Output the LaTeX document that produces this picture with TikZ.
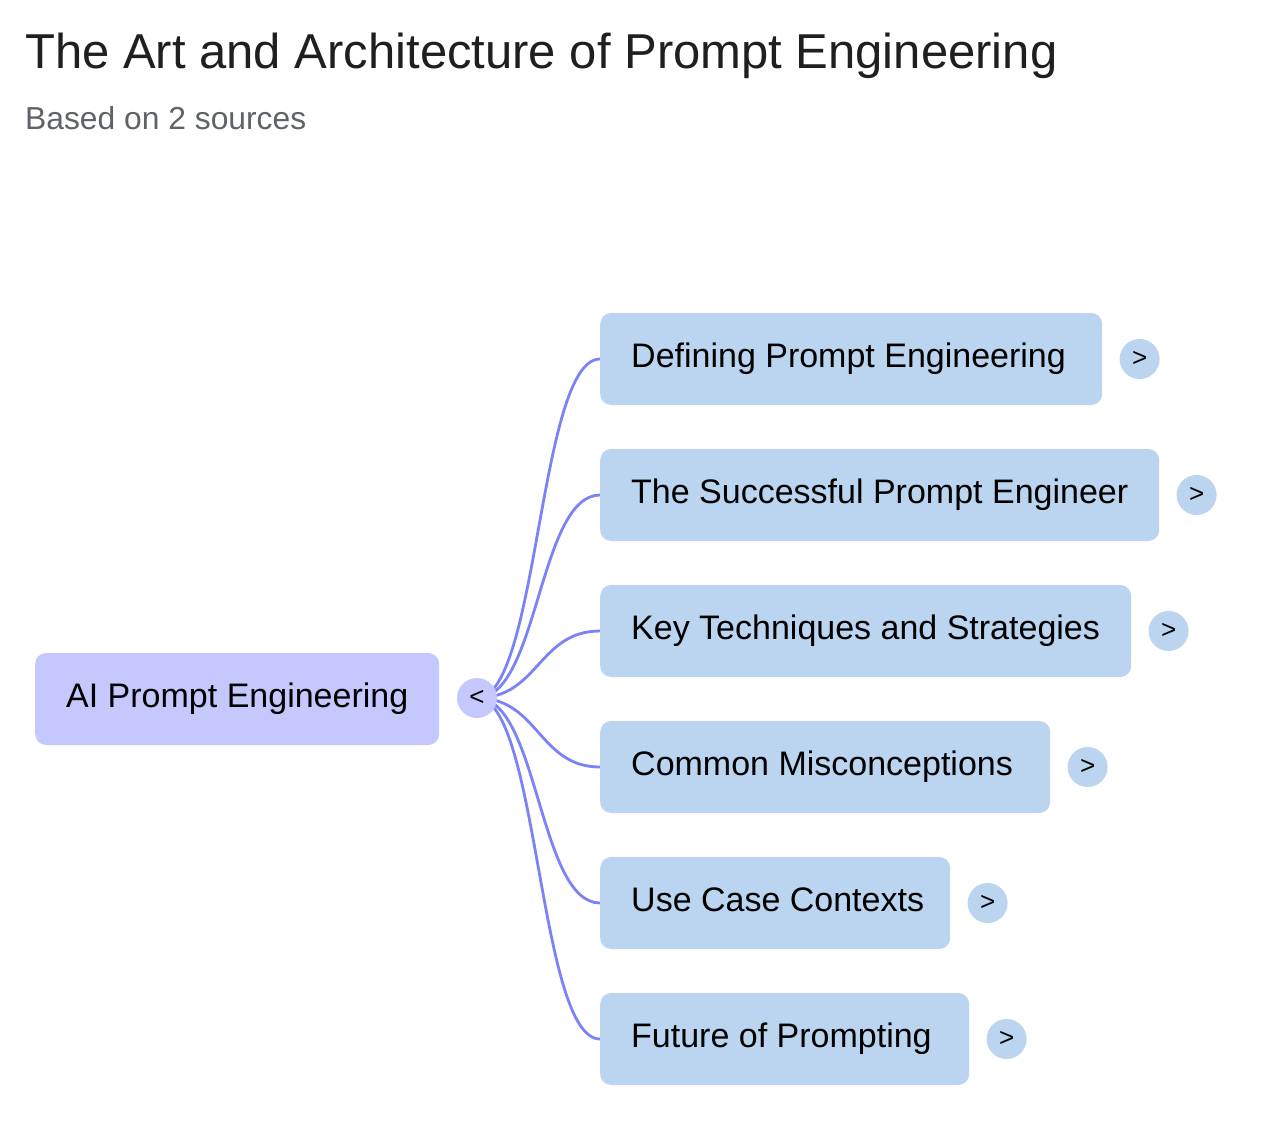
\documentclass[tikz,border=0pt]{standalone}
\usepackage{fontspec}
\setmainfont{Liberation Sans}
\usetikzlibrary{positioning}
\definecolor{rootfill}{HTML}{C4C8FD}
\definecolor{childfill}{HTML}{BBD4EF}
\definecolor{linkcol}{HTML}{7B83F6}
\definecolor{titlecol}{HTML}{1F1F1F}
\definecolor{subcol}{HTML}{5F6368}
\newcommand{\boxlabel}[2]{\makebox[#1][l]{#2}}
\begin{document}
\begin{tikzpicture}[x=1pt,y=-1pt,
  boxbase/.style={rounded corners=11pt, minimum height=92pt, inner xsep=31pt, inner ysep=0pt,
    anchor=west, font=\fontsize{34}{40}\selectfont, text height=24pt, text depth=7pt},
  rootbox/.style={boxbase, fill=rootfill},
  childbox/.style={boxbase, fill=childfill},
  togglebase/.style={circle, minimum size=40pt, inner sep=0pt, font=\fontsize{26}{26}\selectfont},
  hubcirc/.style={togglebase, fill=rootfill},
  expcirc/.style={togglebase, fill=childfill, right=17pt of #1},
  link/.style={draw=linkcol, line width=2.8pt}
]
\useasboundingbox[fill=white] (0,0) rectangle (1280,1144);

\node[anchor=base west, inner sep=0pt, text=titlecol, font=\fontsize{49}{56}\selectfont] (title) at (25,68) {The Art and Architecture of Prompt Engineering};
\node[anchor=base west, inner sep=0pt, text=subcol, font=\fontsize{31.8}{36}\selectfont] (subtitle) at (25,129) {Based on 2 sources};

\node[rootbox] (root) at (35,699) {\boxlabel{342pt}{AI Prompt Engineering}};

\node[childbox] (c1) at (600,359) {\boxlabel{440pt}{Defining Prompt Engineering}};
\node[childbox] (c2) at (600,495) {\boxlabel{497pt}{The Successful Prompt Engineer}};
\node[childbox] (c3) at (600,631) {\boxlabel{469pt}{Key Techniques and Strategies}};
\node[childbox] (c4) at (600,767) {\boxlabel{388pt}{Common Misconceptions}};
\node[childbox] (c5) at (600,903) {\boxlabel{288pt}{Use Case Contexts}};
\node[childbox] (c6) at (600,1039) {\boxlabel{307pt}{Future of Prompting}};

\coordinate (hub) at (477,698);
\foreach \c in {c1,c2,c3,c4,c5,c6}{
  \draw[link] (hub) .. controls +(61.5,0) and +(-61.5,0) .. (\c.west);
}
\node[hubcirc] (toggle) at (hub) {<};

\node[expcirc=c1] (e1) {>};
\node[expcirc=c2] (e2) {>};
\node[expcirc=c3] (e3) {>};
\node[expcirc=c4] (e4) {>};
\node[expcirc=c5] (e5) {>};
\node[expcirc=c6] (e6) {>};
\end{tikzpicture}
\end{document}
